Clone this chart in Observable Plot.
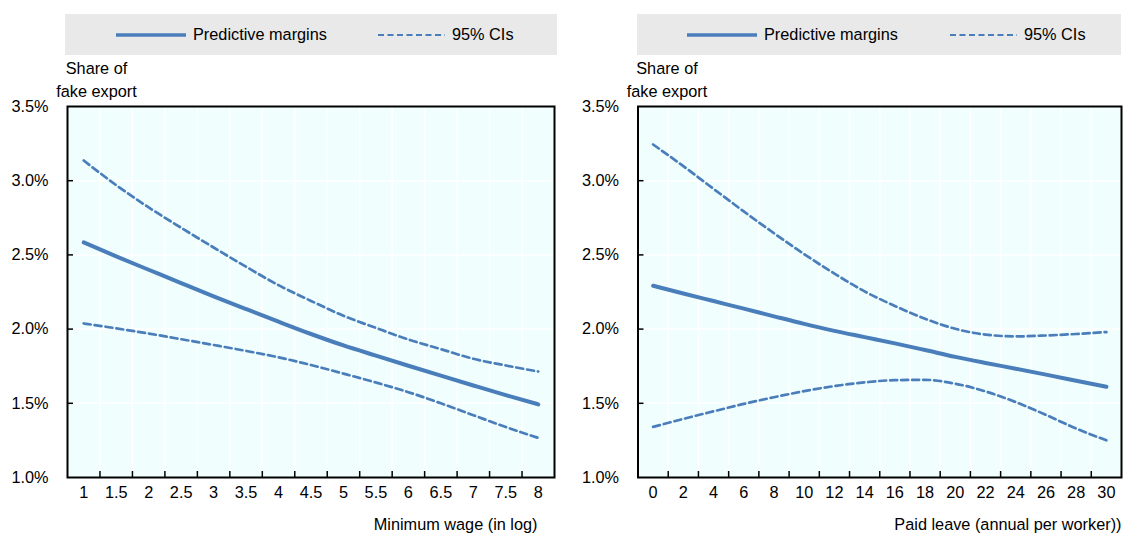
<!DOCTYPE html>
<html>
<head>
<meta charset="utf-8">
<script src="https://cdn.jsdelivr.net/npm/d3@7"></script>
<script src="https://cdn.jsdelivr.net/npm/@observablehq/plot@0.6"></script>
<style>
  html, body { margin: 0; padding: 0; background: #fff; }
  body { width: 1123px; height: 534px; position: relative; overflow: hidden;
         font-family: 'Liberation Sans', Arial, sans-serif; }
  .legend { position: absolute; top: 14px; height: 41px; background: #e9e9e9; }
  .legend .item { position: absolute; top: 0; height: 41px; display: flex; align-items: center;
                  font-size: 16.3px; color: #000; white-space: nowrap; }
  .legend svg { margin-right: 7px; }
  .panel { position: absolute; top: 56px; }
</style>
</head>
<body>
<div id="root"></div>
<script>
// ---------- data ----------
const seriesLabels = ["Predictive margins", "95% CIs"];
const yLabel = "Share of\nfake export";
const yTicks = [1.0, 1.5, 2.0, 2.5, 3.0, 3.5];

// Panel 1: minimum wage
const wageTitle = "Minimum wage (in log)";
const wageX = [1, 1.5, 2, 2.5, 3, 3.5, 4, 4.5, 5, 5.5, 6, 6.5, 7, 7.5, 8];
const wageMargin = [2.584, 2.49, 2.40, 2.31, 2.221, 2.135, 2.05, 1.967, 1.89, 1.821, 1.753, 1.686, 1.62, 1.555, 1.493];
const wageUpper  = [3.136, 2.97, 2.82, 2.683, 2.55, 2.42, 2.296, 2.19, 2.09, 2.008, 1.93, 1.865, 1.80, 1.755, 1.714];
const wageLower  = [2.038, 2.005, 1.97, 1.932, 1.893, 1.853, 1.81, 1.758, 1.70, 1.64, 1.575, 1.50, 1.42, 1.34, 1.267];

// Panel 2: paid leave
const leaveTitle = "Paid leave (annual per worker))";
const leaveX = [0, 2, 4, 6, 8, 10, 12, 14, 16, 18, 20, 22, 24, 26, 28, 30];
const leaveMargin = [2.292, 2.24, 2.189, 2.138, 2.086, 2.035, 1.988, 1.946, 1.904, 1.859, 1.813, 1.772, 1.733, 1.693, 1.652, 1.611];
const leaveUpper  = [3.244, 3.098, 2.945, 2.793, 2.646, 2.505, 2.374, 2.254, 2.156, 2.07, 2.002, 1.963, 1.951, 1.957, 1.967, 1.98];
const leaveLower  = [1.341, 1.395, 1.446, 1.496, 1.541, 1.582, 1.616, 1.641, 1.656, 1.658, 1.632, 1.58, 1.508, 1.422, 1.33, 1.251];

// ---------- style ----------
const BLUE = "#4a7ebb";
const BG = "#f0fefe";
const FONT = "'Liberation Sans', Arial, sans-serif";

function legend(left, width, solidX, dashX) {
  const d = document.createElement("div");
  d.className = "legend";
  d.style.left = left + "px";
  d.style.width = width + "px";
  d.innerHTML =
    `<div class="item" style="left:${solidX}px"><svg width="70" height="6"><line x1="0" x2="70" y1="3" y2="3" stroke="${BLUE}" stroke-width="3.5"/></svg>${seriesLabels[0]}</div>` +
    `<div class="item" style="left:${dashX}px"><svg width="67" height="6"><line x1="0" x2="67" y1="3" y2="3" stroke="${BLUE}" stroke-width="2.2" stroke-dasharray="6,3.5"/></svg>${seriesLabels[1]}</div>`;
  return d;
}

function panel({xs, margin, upper, lower, step, title, left, width, mLeft, mRight, labelDx}) {
  const height = 478, mTop = 50, mBottom = 57;
  const plotH = height - mTop - mBottom;
  const plotW = width - mLeft - mRight;
  const lo = xs[0] - step / 2, hi = xs[xs.length - 1] + step / 2;
  const bounds = xs.slice(1).map(v => v - step / 2);
  const rows = xs.map((x, i) => ({x, m: margin[i], u: upper[i], l: lower[i]}));
  const chart = Plot.plot({
    width, height,
    marginTop: mTop, marginBottom: mBottom, marginLeft: mLeft, marginRight: mRight,
    style: {fontFamily: FONT, fontSize: "16.3px", color: "#000", background: "transparent", overflow: "visible"},
    x: {type: "linear", domain: [lo, hi]},
    y: {type: "linear", domain: [1, 3.5]},
    marks: [
      Plot.frame({fill: BG, stroke: null}),
      Plot.gridY(yTicks.slice(1, -1), {stroke: "#fff", strokeOpacity: 1, strokeWidth: 1.5}),
      Plot.gridX(bounds, {stroke: "#fff", strokeOpacity: 1, strokeWidth: 1.5}),
      Plot.line(rows, {x: "x", y: "u", stroke: BLUE, strokeWidth: 2.7, strokeDasharray: "7,4", curve: "monotone-x"}),
      Plot.line(rows, {x: "x", y: "l", stroke: BLUE, strokeWidth: 2.7, strokeDasharray: "7,4", curve: "monotone-x"}),
      Plot.line(rows, {x: "x", y: "m", stroke: BLUE, strokeWidth: 4, curve: "monotone-x"}),
      Plot.ruleX(bounds, {stroke: "#000", strokeWidth: 1.5, insetTop: plotH - 6}),
      Plot.ruleY(yTicks.slice(1, -1), {stroke: "#000", strokeWidth: 1.5, insetRight: plotW - 6}),
      Plot.axisY(yTicks, {tickSize: 0, tickPadding: 19, tickFormat: d => d.toFixed(1) + "%", label: null}),
      Plot.axisX(xs, {tickSize: 0, tickPadding: 9, tickFormat: d => String(d), label: null}),
      Plot.frame({stroke: "#000", strokeWidth: 2}),
      Plot.text([yLabel], {frameAnchor: "top-left", text: d => d, textAnchor: "middle", lineAnchor: "bottom",
                           dx: 29, dy: -10, lineHeight: 1.41, fill: "#000"}),
      Plot.text([title], {frameAnchor: "bottom-right", text: d => d, textAnchor: "end", lineAnchor: "middle",
                          dx: labelDx, dy: 47, fill: "#000"})
    ]
  });
  const wrap = document.createElement("div");
  wrap.className = "panel";
  wrap.style.left = left + "px";
  wrap.appendChild(chart);
  return wrap;
}

const root = document.getElementById("root");
root.appendChild(legend(65, 492, 51, 313));
root.appendChild(legend(637, 484, 50, 313));
root.appendChild(panel({xs: wageX, margin: wageMargin, upper: wageUpper, lower: wageLower, step: 0.5,
  title: wageTitle, left: 0, width: 560, mLeft: 67, mRight: 6, labelDx: -17}));
root.appendChild(panel({xs: leaveX, margin: leaveMargin, upper: leaveUpper, lower: leaveLower, step: 2,
  title: leaveTitle, left: 560, width: 563, mLeft: 77.5, mRight: 2, labelDx: 0}));
</script>
</body>
</html>
